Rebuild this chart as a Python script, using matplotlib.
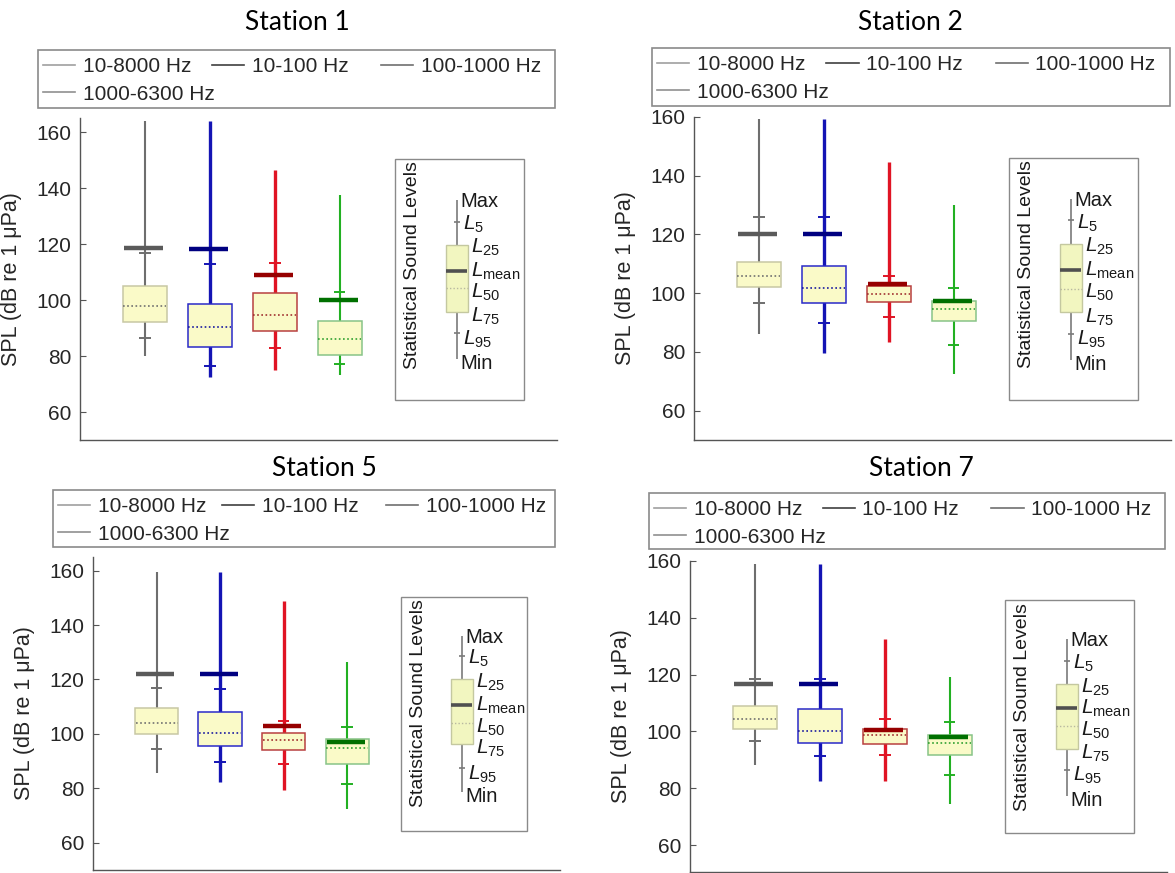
import matplotlib
matplotlib.use('Agg')
import matplotlib.pyplot as plt
from matplotlib.lines import Line2D
from matplotlib.patches import Rectangle
from matplotlib.transforms import offset_copy

plt.rcParams['font.family'] = ['Liberation Sans', 'DejaVu Sans']
plt.rcParams['mathtext.fontset'] = 'custom'
plt.rcParams['mathtext.rm'] = 'Liberation Sans'
plt.rcParams['mathtext.it'] = 'Liberation Sans:italic'

stations = ['Station 1', 'Station 2', 'Station 5', 'Station 7']
bands = ['10-8000 Hz', '10-100 Hz', '100-1000 Hz', '1000-6300 Hz']
positions = [1, 2, 3, 4]

# per station, per band (dB re 1 uPa)
lmax = [[164.0, 164.0, 146.6, 137.6],
        [159.4, 159.4, 144.7, 130.2],
        [159.4, 159.4, 148.7, 126.6],
        [159.0, 159.0, 132.5, 119.3]]
l5 = [[116.7, 112.8, 113.1, 103.0],
      [125.9, 125.9, 105.7, 101.8],
      [117.0, 116.4, 104.8, 102.5],
      [118.4, 118.4, 104.4, 103.2]]
l25 = [[105.0, 98.4, 102.4, 92.6],
       [110.6, 109.2, 102.4, 97.3],
       [109.4, 108.2, 100.5, 98.0],
       [109.1, 107.8, 100.9, 98.8]]
lmean = [[118.5, 118.3, 109.0, 100.0],
         [120.0, 120.0, 103.2, 97.3],
         [122.1, 122.1, 102.9, 96.9],
         [116.8, 116.6, 100.6, 97.9]]
l50 = [[97.9, 90.4, 94.6, 85.9],
       [105.7, 101.8, 99.8, 94.7],
       [103.9, 100.2, 97.8, 94.7],
       [104.3, 100.0, 98.8, 95.9]]
l75 = [[92.2, 83.3, 88.9, 80.3],
       [102.0, 96.6, 96.9, 90.5],
       [100.0, 95.6, 94.1, 88.8],
       [101.0, 95.9, 95.7, 91.6]]
l95 = [[86.3, 76.5, 82.7, 77.0],
       [96.6, 89.8, 91.8, 82.5],
       [94.5, 89.8, 88.8, 81.5],
       [96.5, 91.5, 91.8, 84.6]]
lmin = [[80.0, 72.5, 74.9, 73.1],
        [86.1, 79.7, 83.3, 72.5],
        [85.5, 82.5, 79.4, 72.3],
        [88.3, 82.5, 82.5, 74.3]]

# explanatory key box drawn in each panel: Max, L5, L25, Lmean, L50, L75, L95, Min
key_levels = [[135.8, 128.0, 119.7, 110.5, 104.2, 95.8, 88.1, 79.0],
              [132.2, 124.8, 116.8, 108.0, 101.5, 93.5, 86.1, 77.3],
              [135.8, 128.7, 120.1, 110.7, 103.9, 96.3, 87.4, 78.8],
              [132.7, 124.9, 116.6, 108.2, 101.8, 93.8, 86.5, 77.4]]
key_labels = ['Max', '$L_{5}$', '$L_{25}$', '$L_{\\mathrm{mean}}$', '$L_{50}$',
              '$L_{75}$', '$L_{95}$', 'Min']

ylims = [(50, 165), (50, 160), (50, 165), (50.5, 160)]

whisker_col = ['#6e6e6e', '#1414b4', '#e01424', '#22b022']
whisker_lw = [1.5, 2.4, 2.4, 1.5]
edge_col = ['#c8c8a4', '#2a2ac8', '#b84040', '#88c488']
mean_col = ['#5a5a5a', '#000080', '#960000', '#007000']
med_col = ['#707070', '#1a1aa0', '#a03030', '#30a030']
face = '#fafac8'
legend_col = ['#a0a0a0', '#404040', '#707070', '#909090']

W, H = 1175, 873
# pixel layout: axes (left, top, right, bottom), title centre, legend box (left, top, right, bottom)
layout = [
    dict(ax=(80, 118, 557, 440), title=(297, 22), leg=(38, 50, 555, 108)),
    dict(ax=(694, 117, 1171, 440), title=(910, 22), leg=(652, 48, 1170, 106)),
    dict(ax=(93, 557, 560, 870), title=(324, 468), leg=(53, 490, 555, 547)),
    dict(ax=(690, 561, 1167, 872), title=(921, 468), leg=(649, 493, 1165, 549)),
]

fig = plt.figure(figsize=(W / 100, H / 100), dpi=100)

handles = [Line2D([], [], color=c, lw=1.2) for c in legend_col]
# legend is laid out row-wise in equal-width columns
leg_cols = [[0, 3], [1], [2]]

for s, name in enumerate(stations):
    lay = layout[s]
    l, t, r, b = lay['ax']
    ax = fig.add_axes([l / W, 1 - b / H, (r - l) / W, (b - t) / H])

    for i, p in enumerate(positions):
        ax.vlines(p, lmin[s][i], lmax[s][i], color=whisker_col[i], lw=whisker_lw[i], zorder=2)
        ax.bar(p, l25[s][i] - l75[s][i], bottom=l75[s][i], width=0.68,
               color=face, edgecolor=edge_col[i], lw=1.1, zorder=3)
        ax.hlines(l50[s][i], p - 0.33, p + 0.33, color=med_col[i], lw=1.2,
                  linestyles=(0, (1, 1.5)), zorder=4)
        ax.hlines([l5[s][i], l95[s][i]], p - 0.09, p + 0.09, color=whisker_col[i], lw=1.4, zorder=4)
        ax.hlines(lmean[s][i], p - 0.32, p + 0.28, color=mean_col[i], lw=3.2, zorder=5)

    # key
    ax.add_patch(Rectangle((0.66, 0.124), 0.27, 0.749, transform=ax.transAxes,
                           facecolor='white', edgecolor='#8a8a8a', lw=1.0, zorder=1))
    ax.text(0.698, 0.866, 'Statistical Sound Levels', transform=ax.transAxes, rotation=90,
            ha='center', va='top', fontsize=14, color='#1a1a1a')
    kx = 5.81
    kv = key_levels[s]
    ax.vlines(kx, kv[7], kv[0], color='#7a7a7a', lw=1.2, zorder=2)
    ax.bar(kx, kv[2] - kv[5], bottom=kv[5], width=0.34, color='#f2f6c0',
           edgecolor='#c4c8a0', lw=1.0, zorder=3)
    ax.hlines([kv[1], kv[6]], kx - 0.05, kx + 0.05, color='#7a7a7a', lw=1.2, zorder=4)
    ax.hlines(kv[4], kx - 0.17, kx + 0.17, color='#b8b8a0', lw=1.0,
              linestyles=(0, (1, 1.5)), zorder=4)
    ax.hlines(kv[3], kx - 0.17, kx + 0.15, color='#505050', lw=2.6, zorder=5)
    offs = [0.05, 0.09, 0.22, 0.22, 0.22, 0.22, 0.09, 0.05]
    nudge = [-7, -8, -8, -6, -9, -10, -11, -10]
    for j, (lab, v, o) in enumerate(zip(key_labels, kv, offs)):
        fs = 14.5 if j in (0, 7) else 15
        tr = offset_copy(ax.transData, fig=fig, x=0, y=nudge[j], units='dots')
        ax.text(kx + o, v, lab, transform=tr, ha='left', va='baseline',
                fontsize=fs, color='#1a1a1a')

    ax.set_xlim(0, 7.35)
    ax.set_ylim(*ylims[s])
    ax.set_yticks([60, 80, 100, 120, 140, 160])
    ax.set_xticks([])
    ax.tick_params(axis='y', direction='in', length=4, width=0.8, pad=6,
                   labelsize=15, labelcolor='#262626', color='#555555')
    for side in ['top', 'right']:
        ax.spines[side].set_visible(False)
    for side in ['left', 'bottom']:
        ax.spines[side].set_color('#555555')
        ax.spines[side].set_linewidth(1.0)
    ax.set_ylabel('SPL (dB re 1 \u03bcPa)', fontsize=15.5, color='#262626')
    ax.yaxis.set_label_coords(-58 / (r - l), 0.5)

    tx, ty = lay['title']
    fig.text(tx / W, 1 - ty / H, name, ha='center', va='center',
             fontfamily='Lato', fontsize=19, color='black')

    ll, lt, lr, lb = lay['leg']
    fig.add_artist(Rectangle((ll / W, 1 - lb / H), (lr - ll) / W, (lb - lt) / H,
                             transform=fig.transFigure, facecolor='white',
                             edgecolor='#8a8a8a', lw=1.2, zorder=1))
    colw = (lr - ll - 10) / 3
    for k, cols in enumerate(leg_cols):
        x0 = ll + 5 + k * colw
        leg = fig.legend([handles[i] for i in cols], [bands[i] for i in cols],
                         loc='upper left', bbox_to_anchor=(x0 / W, 1 - (lt + 7) / H),
                         frameon=False, fontsize=15, handlelength=1.55,
                         handletextpad=0.35, labelspacing=0.42, borderpad=0.0,
                         borderaxespad=0.0)
        leg.set_zorder(2)
        for txt in leg.get_texts():
            txt.set_color('#262626')

fig.savefig('out.png', dpi=100)
